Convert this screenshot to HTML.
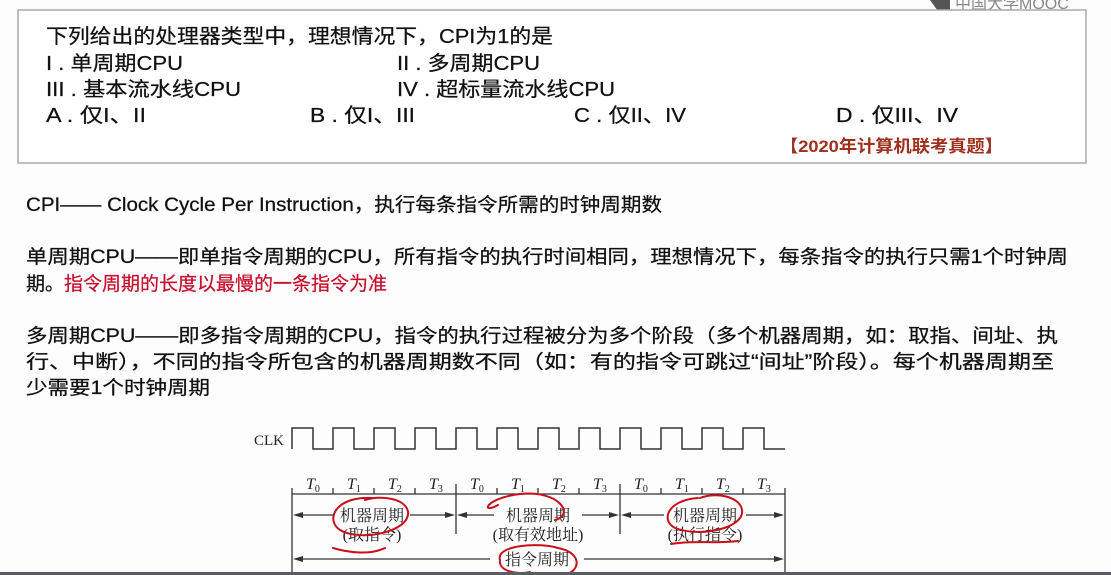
<!DOCTYPE html>
<html><head><meta charset="utf-8"><style>
html,body{margin:0;padding:0;background:#fff;width:1111px;height:575px;overflow:hidden}
svg{display:block}
.t{font-family:"Liberation Sans","Noto Sans CJK SC",sans-serif;fill:#111;stroke:#111;stroke-width:0.25}
.s{font-family:"Liberation Serif","Noto Serif CJK SC",serif;fill:#222}
</style></head><body>
<svg width="1111" height="575" viewBox="0 0 1111 575" xmlns="http://www.w3.org/2000/svg">
<rect x="0" y="0" width="1111" height="575" fill="#fdfdfd"/>
<!-- logo -->
<path d="M930 0 L950 0 L950 10 L940 14 Z" fill="#555"/>
<text x="955" y="9" font-family="Liberation Sans,Noto Sans CJK SC,sans-serif" font-size="16" fill="#888">中国大学MOOC</text>
<!-- question box -->
<rect x="18" y="10" width="1068" height="153" fill="#fff" stroke="#aaa" stroke-width="1.5"/>
<g class="t" font-size="20">
<text x="46" y="43" textLength="507" lengthAdjust="spacingAndGlyphs">下列给出的处理器类型中，理想情况下，CPI为1的是</text>
<text x="46" y="70" textLength="137" lengthAdjust="spacingAndGlyphs">I . 单周期CPU</text>
<text x="397" y="70" textLength="143" lengthAdjust="spacingAndGlyphs">II . 多周期CPU</text>
<text x="46" y="96" textLength="195" lengthAdjust="spacingAndGlyphs">III . 基本流水线CPU</text>
<text x="397" y="96" textLength="218" lengthAdjust="spacingAndGlyphs">IV . 超标量流水线CPU</text>
<text x="46" y="122" textLength="100" lengthAdjust="spacingAndGlyphs">A . 仅I、II</text>
<text x="310" y="122" textLength="105" lengthAdjust="spacingAndGlyphs">B . 仅I、III</text>
<text x="574" y="122" textLength="112" lengthAdjust="spacingAndGlyphs">C . 仅II、IV</text>
<text x="836" y="122" textLength="122" lengthAdjust="spacingAndGlyphs">D . 仅III、IV</text>
</g>
<text x="780" y="152" font-family="Liberation Sans,Noto Sans CJK SC,sans-serif" font-size="17" font-weight="bold" fill="#a0301e" textLength="223" lengthAdjust="spacingAndGlyphs">【2020年计算机联考真题】</text>
<!-- body text -->
<g class="t" font-size="19">
<text x="26" y="211" textLength="636" lengthAdjust="spacingAndGlyphs">CPI—— Clock Cycle Per Instruction，执行每条指令所需的时钟周期数</text>
<text x="26" y="263" textLength="1042" lengthAdjust="spacingAndGlyphs">单周期CPU——即单指令周期的CPU，所有指令的执行时间相同，理想情况下，每条指令的执行只需1个时钟周</text>
<text x="26" y="290">期。<tspan style="fill:#c8102e;stroke:#c8102e">指令周期的长度以最慢的一条指令为准</tspan></text>
<text x="26" y="342" textLength="1032" lengthAdjust="spacingAndGlyphs">多周期CPU——即多指令周期的CPU，指令的执行过程被分为多个阶段（多个机器周期，如：取指、间址、执</text>
<text x="26" y="368" textLength="1028" lengthAdjust="spacingAndGlyphs">行、中断），不同的指令所包含的机器周期数不同（如：有的指令可跳过“间址”阶段）。每个机器周期至</text>
<text x="26" y="394" textLength="184" lengthAdjust="spacingAndGlyphs">少需要1个时钟周期</text>
</g>
<!-- CLK -->
<text x="254" y="445" class="s" font-size="15">CLK</text>
<path d="M292 449 L292 428 L313 428 L313 449 L333 449 L333 428 L354 428 L354 449 L374 449 L374 428 L395 428 L395 449 L415 449 L415 428 L436 428 L436 449 L456 449 L456 428 L477 428 L477 449 L497 449 L497 428 L518 428 L518 449 L538 449 L538 428 L559 428 L559 449 L579 449 L579 428 L600 428 L600 449 L620 449 L620 428 L641 428 L641 449 L661 449 L661 428 L682 428 L682 449 L702 449 L702 428 L723 428 L723 449 L743 449 L743 428 L764 428 L764 449 L785 449" fill="none" stroke="#333" stroke-width="1.5"/>
<!-- timeline -->
<g stroke="#333" stroke-width="1.3" fill="none">
<line x1="292" y1="494" x2="785" y2="494"/>
<line x1="292" y1="488" x2="292" y2="575"/>
<line x1="785" y1="488" x2="785" y2="575"/>
<line x1="456" y1="484" x2="456" y2="534"/>
<line x1="620" y1="484" x2="620" y2="534"/>
<path d="M333 494v-6M374 494v-6M415 494v-6M497 494v-6M538 494v-6M579 494v-6M661 494v-6M702 494v-6M743 494v-6"/>
<line x1="296" y1="515" x2="334" y2="515"/><line x1="410" y1="515" x2="452" y2="515"/>
<line x1="460" y1="515" x2="494" y2="515"/><line x1="582" y1="515" x2="616" y2="515"/>
<line x1="624" y1="515" x2="664" y2="515"/><line x1="746" y1="515" x2="781" y2="515"/>
<line x1="296" y1="559" x2="490" y2="559"/><line x1="584" y1="559" x2="781" y2="559"/>
</g>
<g fill="#333">
<path d="M293 515l10-3v6z"/><path d="M455 515l-10-3v6z"/>
<path d="M457 515l10-3v6z"/><path d="M619 515l-10-3v6z"/>
<path d="M621 515l10-3v6z"/><path d="M784 515l-10-3v6z"/>
<path d="M293 559l10-3v6z"/><path d="M784 559l-10-3v6z"/>
</g>
<g class="s" font-size="16" font-style="italic">
<text x="306" y="489">T<tspan font-size="10" font-style="normal" dy="3">0</tspan></text>
<text x="347" y="489">T<tspan font-size="10" font-style="normal" dy="3">1</tspan></text>
<text x="388" y="489">T<tspan font-size="10" font-style="normal" dy="3">2</tspan></text>
<text x="429" y="489">T<tspan font-size="10" font-style="normal" dy="3">3</tspan></text>
<text x="470" y="489">T<tspan font-size="10" font-style="normal" dy="3">0</tspan></text>
<text x="511" y="489">T<tspan font-size="10" font-style="normal" dy="3">1</tspan></text>
<text x="552" y="489">T<tspan font-size="10" font-style="normal" dy="3">2</tspan></text>
<text x="593" y="489">T<tspan font-size="10" font-style="normal" dy="3">3</tspan></text>
<text x="634" y="489">T<tspan font-size="10" font-style="normal" dy="3">0</tspan></text>
<text x="675" y="489">T<tspan font-size="10" font-style="normal" dy="3">1</tspan></text>
<text x="716" y="489">T<tspan font-size="10" font-style="normal" dy="3">2</tspan></text>
<text x="757" y="489">T<tspan font-size="10" font-style="normal" dy="3">3</tspan></text>
</g>
<g class="s" font-size="16" text-anchor="middle">
<text x="372" y="521">机器周期</text><text x="372" y="540">(取指令)</text>
<text x="538" y="521">机器周期</text><text x="538" y="540">(取有效地址)</text>
<text x="705" y="521">机器周期</text><text x="705" y="540">(执行指令)</text>
<text x="537" y="565">指令周期</text>
</g>
<!-- red annotations -->
<g stroke="#c8101a" stroke-width="2" fill="none" stroke-linecap="round">
<path d="M372 498 C335 496 325 520 340 530 C360 542 410 532 408 512 C406 498 380 495 365 500"/>
<path d="M333 548 C350 553 370 555 385 548"/>
<path d="M498 505 C480 515 485 498 520 494 C560 490 575 515 555 520"/>
<path d="M500 560 C495 545 540 542 558 548 C585 553 580 575 560 575 M500 560 C498 572 520 575 530 572"/>
<path d="M698 498 C668 500 660 520 675 528 C700 538 745 528 742 510 C740 496 715 492 700 498"/>
<path d="M671 544 C695 540 715 544 738 541"/>
</g>
<rect x="0" y="572" width="1111" height="3" fill="#5a5e62"/>
</svg>
</body></html>
